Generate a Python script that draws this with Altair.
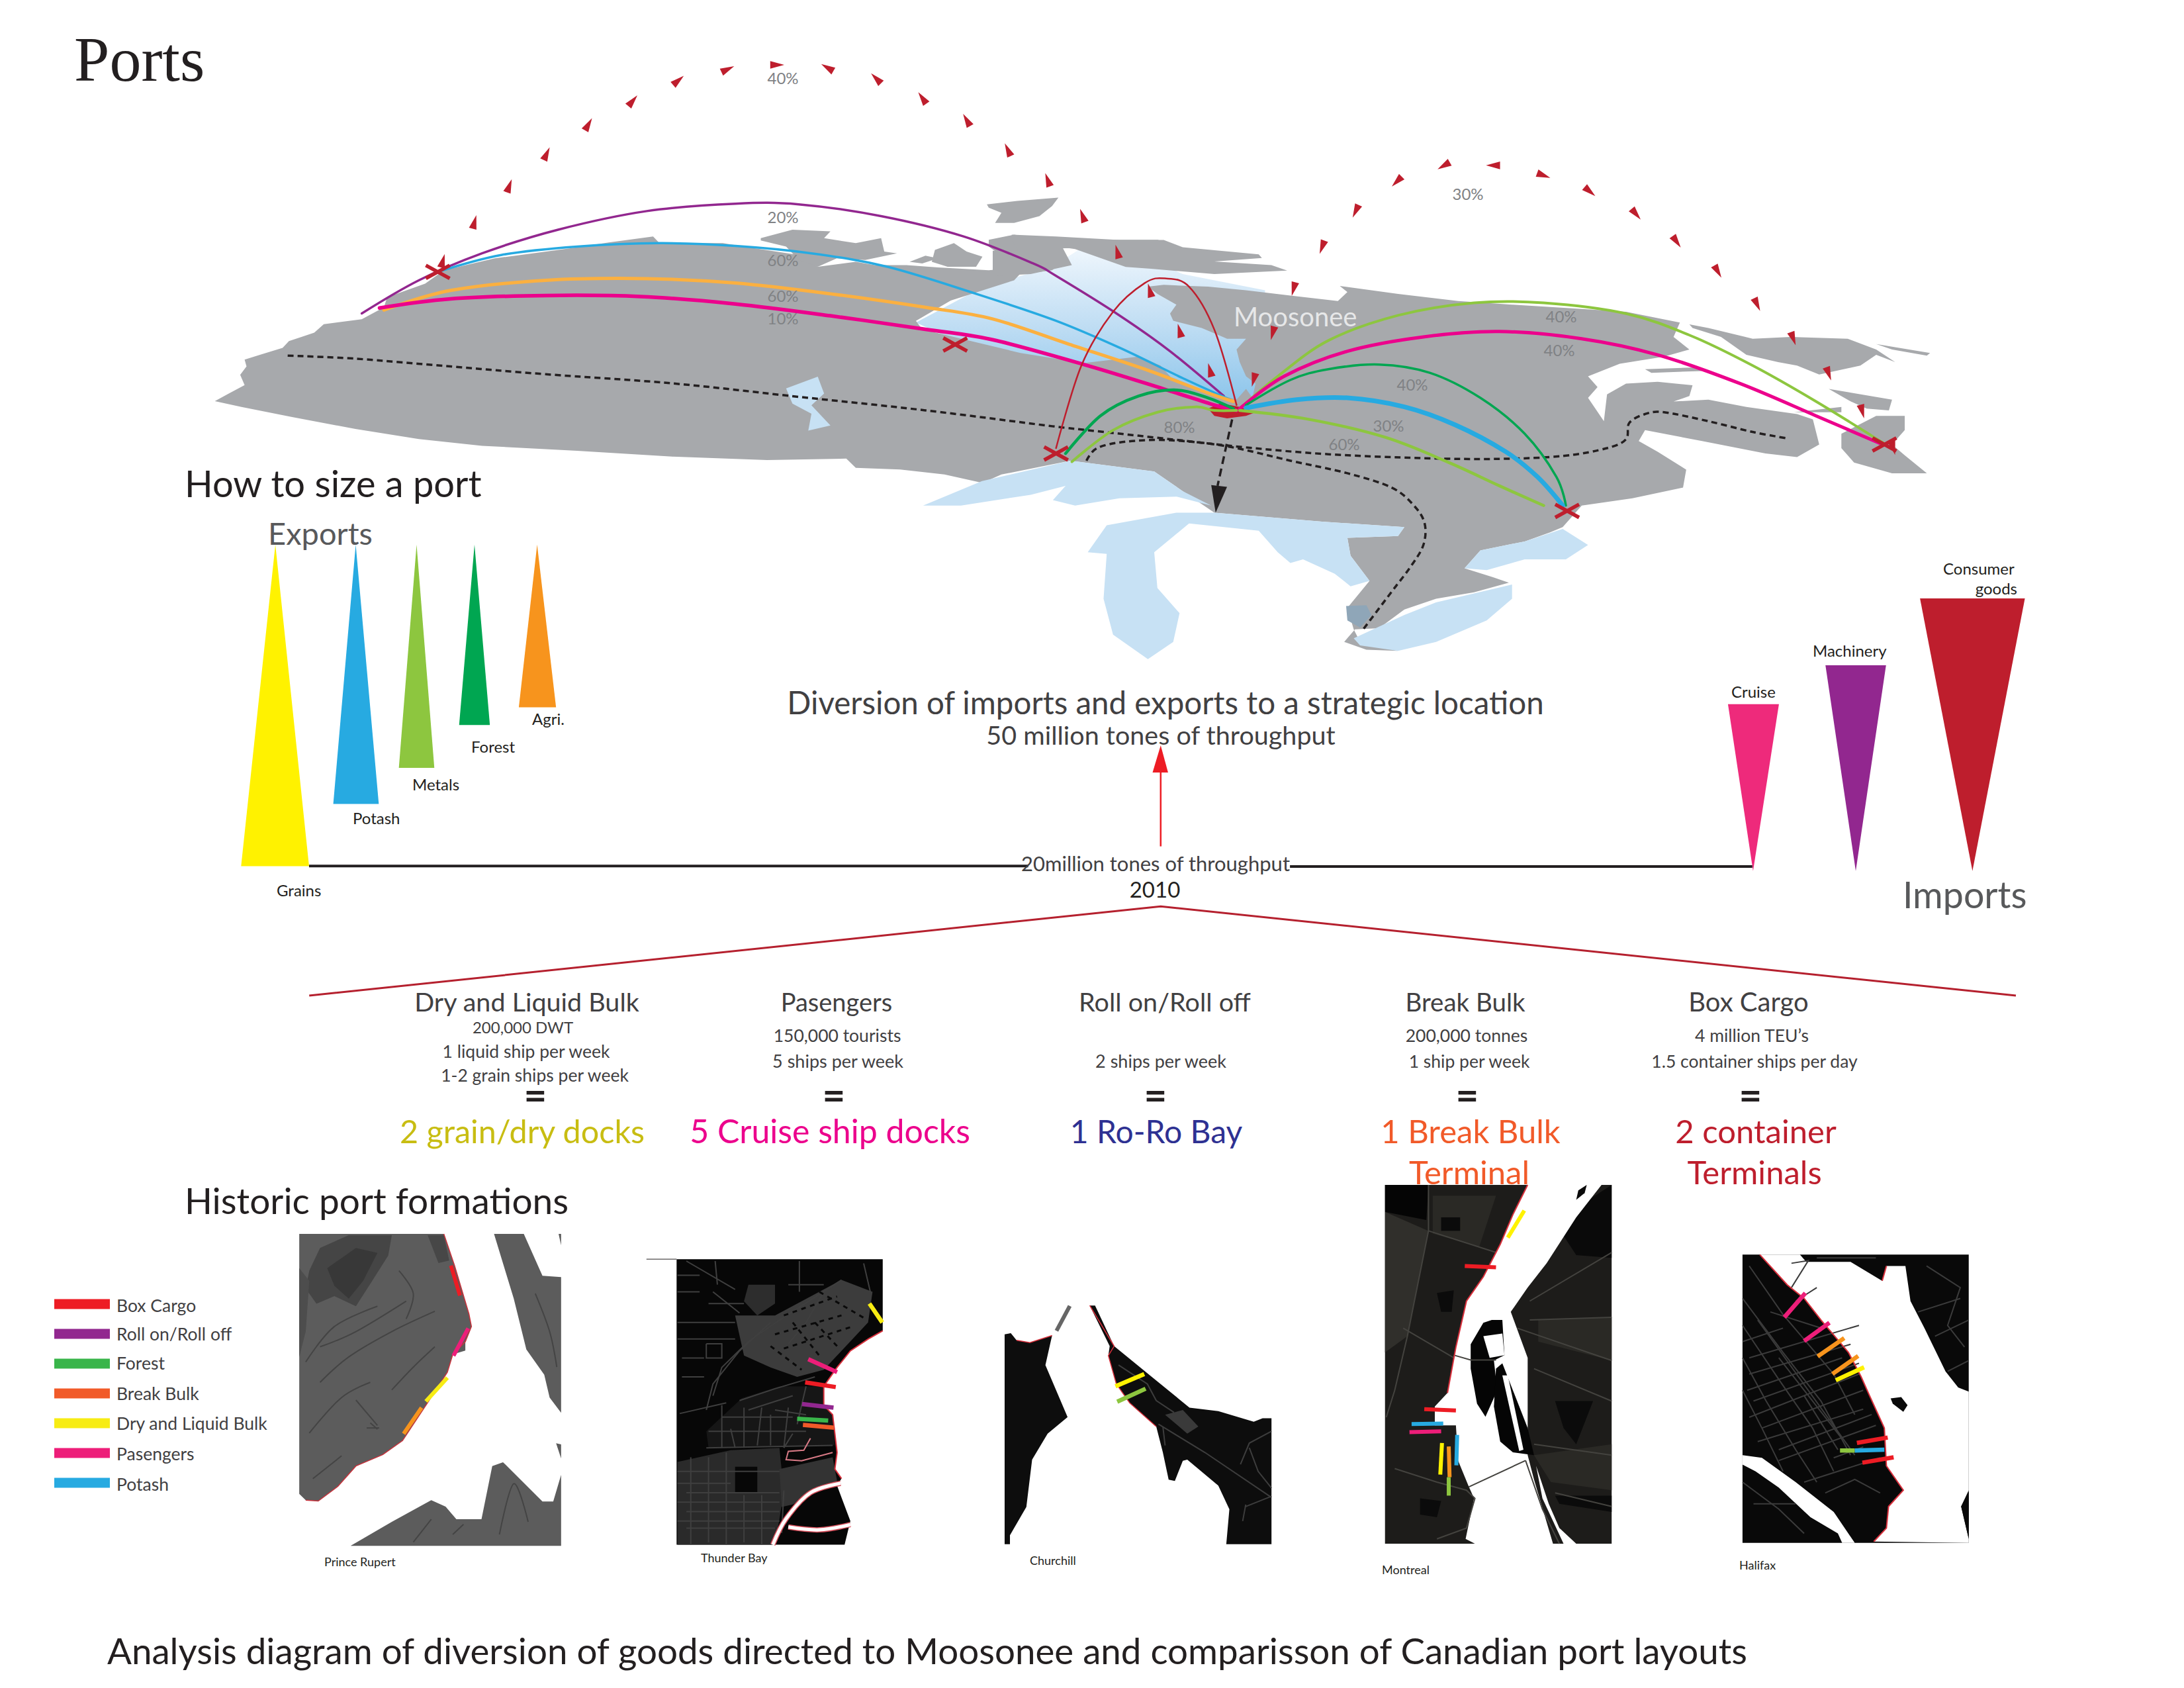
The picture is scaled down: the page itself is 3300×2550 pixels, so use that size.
import altair as alt
import pandas as pd

# Reading frames used when the values were measured: origin x, origin y, x factor, y factor
FRAMES = {1: (250, 0, 1.045, 1.96), 2: (1500, 200, 1.045, 1.845), 3: (250, 680, 1.12, 2.24),
          4: (1400, 800, 0.896, 2.24), 5: (450, 1480, 1.045, 3.0), 6: (1700, 1480, 1.081, 3.0),
          7: (50, 1820, 1.845, 2.61), 8: (950, 1880, 1.493, 2.8), 9: (2050, 1790, 1.568, 2.45)}
def Z(i, pts):
    ox, oy, fx, fy = FRAMES[i]
    return [(ox + x / fx, oy + y / fy) for x, y in pts]

LAND = "#a7a9ac"; LAKE = "#c7e1f4"; CRIMSON = "#be1e2d"; INK = "#231f20"; DGREY = "#58595b"; MGREY = "#808285"
YELLOW = "#fff200"; BLUE = "#27aae1"; LGREEN = "#8dc63f"; GREEN = "#00a651"; ORANGE = "#f7941d"
PINK = "#ee2a7b"; PURPLE = "#92278f"; MAGENTA = "#ec008c"; RED = "#ed1c24"; ARCORANGE = "#fbb040"; BB = "#f15a29"

# ---------- map ----------
bay = Z(1, [(1185,955),(1290,850),(1400,790),(1450,730),(1568,735)]) + Z(2, [(230,340),(300,395),(430,440),(430,610),(430,745),(385,775),(300,725),(230,650)]) + Z(1, [(1450,1090),(1250,1010)])
land_main = (
    Z(1, [(78,1188),(100,1165),(125,1140),(118,1110),(128,1085),(125,1065),(150,1050),(185,1030),(195,1010),(235,985),(250,960),(310,945),(345,910),(350,880),(410,840),(440,800),(520,765),(640,735),(700,718),(770,700),(780,720),(880,720),(930,735),(1000,755),(1030,790),(1090,775),(1120,785),(1170,785),(1220,792),(1300,800),(1360,790),(1340,830),(1290,860),(1240,890),(1185,950),(1195,975),(1250,1000),(1350,1045),(1450,1075)])
    + Z(2, [(230,625),(265,650),(285,690),(310,710),(365,735),(385,745),(400,715),(410,740),(415,700),(400,680),(390,640),(385,605),(400,575),(370,575),(330,545),(285,525),(280,505),(290,480),(260,450),(245,430),(270,425),(340,430),(400,440),(470,455),(545,470),(560,445),(548,428),(640,450),(735,470),(820,480),(910,490),(1000,500),(1085,530),(1075,570),(1100,605),(1060,625),(990,645),(940,680),(955,710),(940,740),(965,805),(970,730),(1000,700),(1050,695),(1105,705),(1100,735),(1075,750),(1130,745),(1190,765),(1270,785),(1295,800),(1305,870),(1270,905),(1220,895),(1120,860),(1030,830),(1020,860),(1050,890),(1095,940),(1090,990),(1010,1020),(930,1040),(900,1100),(880,1115),(840,1140),(770,1165),(745,1215),(790,1240),(815,1255),(760,1282),(700,1300),(650,1330),(610,1382),(572,1385),(555,1420),(590,1442),(640,1445),(580,1420),(570,1385),(560,1325),(595,1250),(565,1180),(560,1130),(640,1125),(650,1100),(520,1085),(350,1060),(300,1000),(255,945),(123,915)])
    + Z(1, [(1400,1375),(1320,1405),(1290,1430),(1230,1405),(1160,1390),(1090,1385),(1075,1358),(950,1362),(800,1352),(650,1335),(500,1320),(400,1300),(300,1270),(200,1235),(120,1205)])
)
islands = [
    Z(1, [(1297,605),(1345,595),(1410,585),(1400,610),(1380,640),(1340,660),(1310,660),(1320,630),(1300,615)]),
    Z(1, [(940,705),(990,680),(1050,685),(1040,705),(1090,720),(1130,705),(1135,745),(1155,750),(1105,770),(1060,765),(1030,790),(1000,770),(980,730),(940,712)]),
    Z(1, [(1215,740),(1245,720),(1265,745),(1290,760),(1280,790),(1235,790),(1210,775)]),
    Z(1, [(1175,775),(1200,757),(1220,765),(1195,780)]),
    Z(1, [(1300,710),(1340,695),(1400,710),(1568,710),(1568,760),(1500,750),(1450,735),(1420,735),(1380,740),(1350,770),(1420,770),(1400,800),(1360,810),(1345,790),(1300,730)]),
    Z(2, [(30,285),(100,290),(200,300),(270,300),(300,320),(420,340),(425,350),(350,360),(440,370),(465,385),(350,395),(250,380),(210,375),(130,325),(110,320),(125,370),(60,395),(0,400),(0,330),(40,330),(30,300)]),
    Z(2, [(1100,535),(1130,545),(1200,575),(1260,570),(1350,575),(1395,605),(1425,640),(1395,620),(1370,650),(1305,675),(1270,650),(1240,640),(1190,620),(1150,570),(1105,545)]),
    Z(2, [(1395,590),(1480,615),(1475,622),(1420,605)]),
    Z(2, [(1320,715),(1420,745),(1415,775),(1380,770),(1355,750)]),
    Z(2, [(1265,780),(1340,765),(1340,780)]),
    Z(2, [(1340,840),(1395,790),(1440,790),(1440,830),(1420,870),(1440,900),(1475,950),(1420,950),(1360,920),(1340,880)]),
    Z(2, [(1030,660),(1110,655),(1120,665),(1040,670)]),
]
lakes = [
    Z(2, [(-110,1040),(-17,972),(123,915),(255,945),(300,1000),(345,1040),(290,1015),(200,1020),(130,1040),(95,1025),(115,985),(60,1010),(-50,1040)]),
    Z(2, [(175,1300),(190,1400),(245,1468),(285,1420),(295,1340),(260,1270),(255,1170),(310,1090),(420,1110),(450,1170),(470,1200),(490,1190),(540,1230),(565,1265),(595,1250),(565,1180),(560,1130),(640,1125),(650,1100),(520,1085),(350,1060),(290,1060),(180,1095),(150,1170),(180,1175)]),
    Z(2, [(570,1410),(650,1345),(700,1310),(760,1285),(820,1260),(820,1300),(780,1360),(700,1420),(640,1445),(580,1430)]),
    Z(2, [(745,1215),(770,1165),(840,1140),(900,1105),(940,1150),(905,1190),(840,1190),(780,1220)]),
    Z(1, [(980,1150),(1030,1115),(1040,1165),(1020,1200),(1050,1260),(1015,1275),(1020,1225),(990,1195)]),
]
st_clair = Z(2, [(558,1320),(590,1318),(598,1345),(580,1380),(560,1360)])

arcs = [
 (Z(1,[(310,928),(400,830),(500,750),(620,680),(760,625),(900,603),(1000,605),(1130,640),(1260,700),(1370,780)])+Z(2,[(100,400),(200,510),(280,610),(365,735)]), PURPLE, 3.5),
 (Z(1,[(430,805),(530,755),(650,730),(780,720),(900,728),(1020,750),(1140,790),(1280,870)])+Z(2,[(100,525),(200,600),(300,685),(375,745)]), BLUE, 3.5),
 (Z(1,[(345,918),(450,860),(600,830),(760,825),(900,838),(1050,870),(1200,910)])+Z(2,[(0,520),(120,590),(240,660),(330,720),(380,750)]), ARCORANGE, 5),
 (Z(1,[(338,912),(450,885),(600,875),(750,878),(900,900),(1050,935),(1200,975)])+Z(2,[(0,578),(150,650),(270,715),(350,760),(385,775)]), MAGENTA, 5.5),
 (Z(2,[(100,880),(140,650),(190,500),(240,420),(272,407),(310,430),(350,550),(385,760)]), CRIMSON, 2.5),
 (Z(2,[(115,895),(170,790),(230,735),(290,718),(340,740),(380,770)]), GREEN, 4.5),
 (Z(2,[(125,918),(190,830),(260,780),(320,765),(350,775),(385,775)]), LGREEN, 4),
 (Z(2,[(390,770),(450,680),(530,580),(640,510),(760,475),(870,475),(1000,505),(1100,565),(1200,650),(1300,750),(1410,870)]), LGREEN, 4),
 (Z(2,[(390,770),(460,680),(560,610),(680,570),(800,555),(930,575),(1050,620),(1180,700),(1300,790),(1405,870)]), MAGENTA, 5),
 (Z(2,[(400,760),(470,690),(530,660),(610,647),(690,670),(770,740),(840,840),(890,960),(905,1040)]), GREEN, 3.5),
 (Z(2,[(400,768),(480,745),(560,740),(650,765),(730,815),(810,890),(860,960),(900,1040)]), BLUE, 7),
 (Z(2,[(390,775),(500,800),(620,850),(720,920),(800,985),(870,1040)]), LGREEN, 4.5),
]
dashed = [
 Z(1,[(193,1053),(300,1062),(450,1085),(600,1108),(800,1135),(1000,1175),(1200,1215),(1400,1262)])+Z(2,[(150,830),(280,855),(400,878),(530,897),(680,908),(800,910),(900,902),(970,880),(1000,855),(1005,810),(1030,785),(1060,780),(1130,805),(1200,835),(1252,852)]),
 Z(2,[(148,915),(165,880),(210,862),(280,858),(370,875),(470,915),(560,950),(630,990),(665,1040),(682,1090),(680,1150),(660,1210),(630,1280),(585,1385)]),
]
south_arrow = Z(2,[(378,800),(355,985)])
south_head = Z(2,[(345,983),(370,988),(352,1060)])

west_tri = Z(1,[(438,772),(488,657),(543,550),(602,455),(668,368),(738,298),(810,238),(888,205),(966,192),(1045,200),(1122,232),(1195,290),(1265,355),(1330,443),(1393,532),(1448,638),(1503,745)])+Z(2,[(248,440),(295,552),(343,662)])
west_ang = [15,15,20,25,30,40,50,65,90,300,315,325,330,335,340,340,345,345,345,345]
east_tri = Z(2,[(412,690),(442,560),(475,437),(520,320),(573,220),(638,137),(712,93),(790,92),(870,120),(943,165),(1016,228),(1080,305),(1145,388),(1207,480),(1264,575),(1320,673),(1373,778),(1422,880)])
east_ang = [195,195,195,200,205,225,240,270,110,130,140,145,150,155,160,160,165,165]
crosses = Z(1,[(430,805),(1247,1020)])+Z(2,[(100,895),(907,1055),(1408,870)])
hub = Z(2,[(340,770),(360,755),(390,765),(415,780),(400,790),(370,797),(350,790)])

# ---------- size triangles ----------
exports = [(Z(3,[(186,320),(243,1408),(128,1408)]),YELLOW),(Z(3,[(322,320),(361,1197),(284,1197)]),BLUE),
           (Z(3,[(425,320),(455,1075),(395,1075)]),LGREEN),(Z(3,[(523,320),(549,930),(497,930)]),GREEN),
           (Z(3,[(629,320),(661,870),(598,870)]),ORANGE)]
imports = [(Z(4,[(1085,591),(1154,591),(1119,1155)]),PINK),(Z(4,[(1217,459),(1299,459),(1258,1155)]),PURPLE),
           (Z(4,[(1345,233),(1487,233),(1416,1155)]),CRIMSON)]
base_lines = [Z(3,[(243,1407),(1460,1407)]), Z(4,[(492,1140),(1118,1140)])]
roof = Z(5,[(18,72)])+Z(4,[(317,1275)])+Z(6,[(1455,72)])
up_arrow = Z(4,[(317,1072),(317,820)]); up_head = Z(4,[(317,730),(327,822),(306,822)])

# ---------- legend ----------
leg_names = ["Box Cargo","Roll on/Roll off","Forest","Break Bulk","Dry and Liquid Bulk","Pasengers","Potash"]
leg_cols = [RED,PURPLE,"#39b54a",BB,"#f7ec13","#ed1e79",BLUE]
leg_y = [1970,2015,2060,2105,2150,2195,2240]
leg_base = [1982,2025,2069,2115,2160,2206,2252]

# ---------- port maps: (points, fill) painted in order ----------
PR_TONE="#5c5c5c"
pr_polys = [
 (Z(7,[(742,115),(1145,115),(1175,240),(1215,430),(1222,480),(1205,540),(1205,575),(1170,590),(1155,660),(1100,780),(1030,930),(975,985),(900,1030),(850,1110),(795,1168),(760,1165),(742,1140)]),PR_TONE),
 (Z(7,[(770,260),(800,170),(880,120),(1000,120),(990,200),(950,290),(900,400),(840,360),(790,390),(760,330)]),"#454545"),
 (Z(7,[(820,250),(900,170),(960,190),(920,300),(880,370),(840,320)]),"#383838"),
 (Z(7,[(1100,120),(1145,120),(1160,220),(1130,230)]),"#474747"),
 (Z(7,[(742,250),(770,300),(760,500),(742,600)]),"#4d4d4d"),
 (Z(7,[(1285,115),(1368,115),(1420,280),(1472,285),(1472,820),(1440,760),(1425,670),(1375,570),(1340,370)]),PR_TONE),
 (Z(7,[(1465,115),(1472,115),(1472,160)]),PR_TONE),
 (Z(7,[(1458,940),(1472,945),(1472,1000)]),PR_TONE),
 (Z(7,[(885,1345),(1000,1250),(1110,1165),(1150,1190),(1180,1240),(1250,1240),(1280,1030),(1310,1015),(1420,1170),(1450,1170),(1472,1065),(1472,1345)]),PR_TONE),
]
pr_coast = Z(7,[(1145,115),(1175,240),(1215,430),(1222,480),(1205,540),(1170,590),(1155,660),(1100,780),(1030,930),(975,985),(900,1030),(850,1110),(795,1168),(760,1165)])
pr_lines = [Z(7,p) for p in [[(800,700),(880,600),(1000,500),(1120,420)],[(770,900),(860,760),(940,700)],[(900,770),(960,870)],[(940,860),(960,885)],[(930,880),(965,880)],[(800,560),(900,500),(1040,380)],[(780,1080),(860,990)],[(1300,1300),(1340,1100),(1380,1250)],[(1170,1300),(1200,1260)],[(760,620),(840,480),(960,400)],[(1000,730),(1060,640),(1120,560)],[(1020,260),(1060,350),(1040,450)],[(1400,350),(1440,500),(1460,640)],[(1060,1330),(1110,1240)]]]
pr_segs = [(Z(7,[(1165,240),(1190,358)]),RED),(Z(7,[(1213,487),(1172,595)]),"#ed1e79"),(Z(7,[(1155,682),(1095,775)]),"#f7ec13"),(Z(7,[(1083,800),(1033,903)]),ORANGE)]

tb_polys = [
 (Z(8,[(108,62),(573,62),(573,365),(540,400),(500,450),(470,520),(440,600),(440,680),(460,720),(465,800),(470,880),(465,950),(480,990),(470,1020),(500,1170),(487,1270),(108,1270)]),"#070707"),
 (Z(8,[(240,300),(330,300),(480,150),(550,200),(540,330),(470,470),(440,530),(380,560),(320,520),(260,470)]),"#3c3c3c"),
 (Z(8,[(110,920),(230,870),(340,860),(350,1050),(330,1270),(110,1270)]),"#2a2a2a"),
 (Z(8,[(240,940),(290,940),(290,1050),(240,1050)]),"#070707"),
 (Z(8,[(270,170),(330,170),(330,250),(290,300),(260,240)]),"#2d2d2d"),
 (Z(8,[(340,950),(460,900),(470,1000),(370,1100),(345,1110)]),"#333333"),
 (Z(8,[(255,650),(340,600),(440,600),(440,680),(460,720),(465,850),(180,860),(175,790)]),"#161616"),
]
tb_coast = Z(8,[(573,365),(540,400),(500,450),(470,520),(440,600),(440,680),(460,720),(465,800),(470,880),(465,950),(480,990)])
tb_river = [Z(8,[(478,1010),(410,1050),(355,1160),(325,1270)]), Z(8,[(360,1195),(430,1207),(500,1185)])]
tb_pink = Z(8,[(410,820),(395,870),(360,875),(355,910),(390,915),(460,880)])
tb_lines = [Z(8,p) for p in [[(190,640),(210,520),(270,410),(340,320),(480,150)],[(175,700),(190,590),(250,450),(320,330)],[(115,715),(220,670)],[(175,860),(460,850)],[(180,790),(400,790)],[(250,660),(330,610),(420,560)],[(270,700),(370,640)],[(300,690),(290,850)],[(230,780),(240,860)],[(360,690),(350,860)],[(130,70),(240,190)],[(195,70),(200,170)],[(385,70),(385,200)],[(110,330),(240,330)],[(110,400),(240,400)],[(175,420),(210,420),(210,480),(175,480),(175,420)],[(130,1050),(340,1050)],[(130,1130),(340,1130)],[(130,1200),(330,1200)],[(180,900),(180,1260)],[(260,1060),(260,1260)],[(350,1040),(345,1220)],[(530,80),(545,200)],[(440,200),(400,330),(360,420)],[(370,800),(350,860)],[(400,600),(380,760)],[(110,960),(340,960)],[(110,1010),(230,1010)],[(110,1090),(340,1090)],[(110,1170),(340,1170)],[(140,900),(140,1270)],[(220,880),(220,1270)],[(300,1060),(300,1270)],[(330,700),(400,720)],[(210,730),(370,730)],[(210,680),(210,860)],[(260,690),(260,860)],[(320,720),(320,850)],[(180,250),(260,250)],[(190,200),(250,290)],[(110,130),(160,130)],[(110,200),(160,200)],[(120,480),(170,480)],[(120,560),(170,560)],[(360,170),(440,170)]]]
tb_dark = [Z(8,p) for p in [[(330,380),(480,300)],[(350,440),(500,350)],[(420,330),(470,430)],[(370,330),(430,470)],[(320,430),(390,530)],[(350,300),(470,220)],[(430,200),(530,310)]]]
tb_rule = Z(8,[(40,62),(108,62)])
tb_segs = [(Z(8,[(543,250),(572,330)]),"#f7ec13"),(Z(8,[(405,485),(470,540)]),"#ed1e79"),(Z(8,[(398,583),(467,603)]),RED),(Z(8,[(391,675),(462,690)]),PURPLE),(Z(8,[(380,737),(450,745)]),"#39b54a"),(Z(8,[(393,763),(463,775)]),BB)]

ch_polys = [
 (Z(8,[(848,380),(862,375),(875,405),(905,415),(955,385),(940,510),(990,730),(945,800),(910,910),(897,1110),(860,1230),(860,1268),(848,1268)]),"#0d0d0d"),
 (Z(8,[(1040,258),(1052,258),(1095,430),(1180,560),(1265,690),(1330,705),(1410,750),(1430,735),(1450,735),(1450,1268),(1348,1268),(1355,1120),(1330,1020),(1260,910),(1250,915),(1232,1000),(1218,995),(1205,880),(1190,770),(1130,670),(1100,590),(1082,470),(1085,430)]),"#0d0d0d"),
 (Z(8,[(1210,720),(1250,700),(1285,770),(1260,800)]),"#3a3a3a"),
]
ch_coast = [Z(8,[(1040,258),(1095,430),(1082,470),(1100,590),(1130,670),(1190,770)]), Z(8,[(955,385),(905,415),(875,405)])]
ch_grey = Z(8,[(995,260),(965,365)])
ch_lines = [Z(8,p) for p in [[(1195,760),(1300,880),(1450,1070)],[(1380,930),(1400,840),(1450,790)],[(1400,860),(1420,960),(1450,1030)],[(1390,1110),(1450,1065)],[(1385,1170),(1392,1100)],[(1105,510),(1170,590),(1190,660),(1230,710)],[(1205,770),(1210,850)]]]
ch_segs = [(Z(8,[(1098,600),(1163,548)]),YELLOW),(Z(8,[(1102,665),(1166,610)]),LGREEN)]

mo_frame = Z(9,[(67,0),(604,0),(604,1328),(67,1328)])
mo_polys = [
 (mo_frame,"#1d1c1a"),
 (Z(9,[(67,0),(170,0),(165,130),(67,100)]),"#050505"),
 (Z(9,[(470,140),(545,60),(604,0),(604,270),(520,260)]),"#0a0a0a"),
 (Z(9,[(67,100),(170,170),(120,560),(67,620)]),"#302f2b"),
 (Z(9,[(180,40),(330,40),(290,230),(180,180)]),"#2a2925"),
 (Z(9,[(430,500),(604,490),(604,650),(430,580)]),"#2a2925"),
 (Z(9,[(420,1000),(604,960),(604,1130),(460,1100)]),"#2a2925"),
 (Z(9,[(470,800),(560,800),(520,960),(490,900)]),"#0b0b0b"),
 (Z(9,[(150,1160),(200,1170),(190,1230),(150,1220)]),"#0b0b0b"),
 (Z(9,[(190,400),(230,390),(225,470),(200,470)]),"#0b0b0b"),
 (Z(9,[(200,120),(245,120),(245,170),(200,170)]),"#0b0b0b"),
 (Z(9,[(470,1150),(604,1150),(604,1210),(480,1180)]),"#0b0b0b"),
 (Z(9,[(405,0),(370,110),(340,220),(300,340),(260,430),(235,600),(215,770),(185,820),(185,890),(235,890),(240,1020),(265,1115),(278,1160),(258,1310),(280,1328),(465,1328),(420,1090),(405,1000),(405,640),(365,470),(405,380),(450,290),(520,120),(580,0)]),"#ffffff"),
 (Z(9,[(545,0),(525,20),(520,55),(540,30)]),"#0a0a0a"),
 (Z(9,[(420,1000),(440,1160),(490,1328),(520,1328),(480,1270),(455,1180),(425,1040)]),"#ffffff"),
 (Z(9,[(300,510),(320,500),(345,500),(350,630),(325,650),(333,760),(305,858),(285,810),(270,680),(270,590)]),"#050505"),
 (Z(9,[(300,560),(345,550),(350,630),(315,640)]),"#ffffff"),
 (Z(9,[(330,680),(345,660),(405,900),(420,1000),(370,990),(340,950),(325,820)]),"#050505"),
 (Z(9,[(345,705),(358,705),(395,980),(385,985)]),"#ffffff"),
]
mo_coast = Z(9,[(405,0),(370,110),(340,220),(300,340),(260,430),(235,600),(215,770)])
mo_lines = [Z(9,p) for p in [[(170,0),(170,170),(120,560),(90,760),(70,860)],[(230,630),(270,648),(330,648)],[(265,1118),(400,1020)],[(170,170),(330,250)],[(110,530),(230,640)],[(410,500),(604,490)],[(380,530),(604,650)],[(420,680),(604,800)],[(420,960),(604,1000)],[(470,1140),(604,1190)],[(90,1050),(190,1100),(260,1130),(280,1160),(260,1270),(190,1310)],[(604,250),(410,430)],[(400,1020),(440,1200),(480,1328)]]]
mo_segs = [(Z(9,[(397,95),(358,195)]),YELLOW),(Z(9,[(256,300),(330,305)]),RED),(Z(9,[(160,830),(235,835)]),RED),(Z(9,[(130,885),(205,883)]),BLUE),(Z(9,[(125,915),(200,912)]),"#ed1e79"),(Z(9,[(202,955),(198,1072)]),YELLOW),(Z(9,[(218,968),(220,1082)]),ORANGE),(Z(9,[(238,925),(236,1038)]),BLUE),(Z(9,[(218,1082),(218,1150)]),LGREEN)]

ha_frame = Z(9,[(914,258),(1450,258),(1450,1325),(914,1325)])
ha_polys = [
 (ha_frame,"#090909"),
 (Z(9,[(955,258),(1050,258),(1065,285),(1170,285),(1245,355),(1255,300),(1300,300),(1312,430),(1345,530),(1395,690),(1425,750),(1450,765),(1450,1130),(1432,1190),(1450,1310),(1450,1325),(1225,1320),(1255,1270),(1260,1190),(1295,1130),(1255,1040),(1250,900),(1215,780),(1195,710),(1165,620),(1100,500),(1060,420),(1020,370)]),"#ffffff"),
 (Z(9,[(914,1000),(960,1010),(1040,1100),(1130,1210),(1180,1325),(1150,1325),(1140,1290),(1075,1230),(1000,1120),(945,1060),(914,1035)]),"#ffffff"),
 (Z(9,[(1265,790),(1290,785),(1305,815),(1295,840),(1270,810)]),"#090909"),
 (Z(9,[(1450,1135),(1450,1310),(1432,1190)]),"#090909"),
]
ha_coast = [Z(9,[(955,258),(1020,370),(1060,420),(1100,500),(1165,620),(1195,710),(1215,780),(1250,900),(1255,1040),(1295,1130),(1260,1190),(1255,1270),(1225,1320)]), Z(9,[(1245,355),(1255,300)])]
ha_lines = [Z(9,p) for p in [[(930,300),(1010,480),(1130,700),(1180,850)],[(914,420),(1010,620),(1100,800),(1170,1000)],[(914,520),(1000,720),(1080,900),(1130,1060)],[(914,640),(970,800),(1040,980),(1090,1100)],[(914,760),(960,900),(1010,1060)],[(930,640),(1190,520)],[(925,760),(1150,640)],[(930,860),(1190,700)],[(950,950),(1200,830)],[(1000,1020),(1230,890)],[(1060,1100),(1240,1010)],[(1040,430),(1090,380)],[(1030,290),(1070,280),(1030,380)],[(1110,1140),(1180,1090),(1240,1140)],[(914,1100),(1000,1200),(1060,1290)],[(940,1180),(1040,1180)],[(1090,270),(1230,270)],[(1350,300),(1430,380),(1400,520),(1440,600)],[(1330,470),(1430,420)],[(1370,560),(1450,500)],[(1400,690),(1450,650)],[(930,700),(1170,590)],[(940,800),(1190,660)],[(960,900),(1200,760)],[(1000,980),(1220,850)],[(914,580),(1010,530)],[(980,470),(1100,530)],[(950,500),(1180,1000)],[(1000,640),(1150,940)],[(1060,780),(1140,980)],[(1130,1010),(1200,970)]]]
ha_segs = [(Z(9,[(1063,400),(1013,490)]),"#ed1e79"),(Z(9,[(1120,510),(1060,578)]),"#ed1e79"),(Z(9,[(1155,567),(1092,635)]),ORANGE),(Z(9,[(1188,633),(1127,700)]),ORANGE),(Z(9,[(1202,675),(1135,723)]),YELLOW),(Z(9,[(1185,955),(1258,935)]),RED),(Z(9,[(1145,983),(1180,983)]),LGREEN),(Z(9,[(1180,983),(1250,980)]),BLUE),(Z(9,[(1198,1028),(1272,1008)]),RED)]

# ---------- text: x, baseline y, text, size, colour ----------
SANS = "Lato"; TXT = "#414042"
pct = [(1183,127,"40%"),(1183,337,"20%"),(1183,402,"60%"),(1183,456,"60%"),(1183,490,"10%"),(2218,302,"30%"),(2359,487,"40%"),(2356,538,"40%"),(2134,590,"40%"),(2098,652,"30%"),(2031,680,"60%"),(1782,654,"80%")]
center_text = [(x,y,t,24,MGREY) for x,y,t in pct] + [
 (1761,1079,"Diversion of imports and exports to a strategic location",47.5,TXT),
 (1754,1125,"50 million tones of throughput",39.5,TXT),
 (1746,1316,"20million tones of throughput",31,TXT),
 (1745,1356,"2010",33,INK),
 (796,1528,"Dry and Liquid Bulk",39.5,TXT),(1264,1528,"Pasengers",38,TXT),(1760,1528,"Roll on/Roll off",39.5,TXT),(2214,1528,"Break Bulk",38.5,TXT),(2642,1528,"Box Cargo",40,TXT),
 (790,1561,"200,000 DWT",24,TXT),(795,1598,"1 liquid ship per week",26.5,TXT),(808,1634,"1-2 grain ships per week",26.5,TXT),
 (1265,1574,"150,000 tourists",26.5,TXT),(1266,1613,"5 ships per week",27,TXT),(1754,1613,"2 ships per week",27,TXT),
 (2216,1574,"200,000 tonnes",26.5,TXT),(2220,1613,"1 ship per week",26.5,TXT),(2647,1574,"4 million TEU\u2019s",26.5,TXT),(2651,1613,"1.5 container ships per day",26.5,TXT),
 (789,1727,"2 grain/dry docks",48.5,"#c8bd12"),(1254,1727,"5 Cruise ship docks",50,MAGENTA),(1747,1727,"1 Ro-Ro Bay",48,"#2e3192"),
 (2222,1727,"1 Break Bulk",49,BB),(2220,1789,"Terminal",49,BB),(2653,1727,"2 container",49,CRIMSON),(2651,1789,"Terminals",49,CRIMSON),
]
equals = [(809,1676,"=",60,INK),(1260,1676,"=",60,INK),(1746,1676,"=",60,INK),(2217,1676,"=",60,INK),(2645,1676,"=",60,INK)]
left_text = [
 (279,751,"How to size a port",56,INK),(405,823,"Exports",47,DGREY),(418,1354,"Grains",24,INK),(533,1245,"Potash",24,INK),(623,1194,"Metals",24,INK),(712,1137,"Forest",24,INK),(804,1095,"Agri.",24,INK),
 (1864,493,"Moosonee",40,"#e6e7e8"),(2875,1372,"Imports",55.5,DGREY),(2616,1054,"Cruise",24,INK),(2739,992,"Machinery",24,INK),(2936,868,"Consumer",24,INK),
 (279,1834,"Historic port formations",55,INK),(490,2366,"Prince Rupert",18,INK),(1059,2360,"Thunder Bay",18,INK),(1556,2364,"Churchill",18,INK),(2088,2378,"Montreal",18,INK),(2628,2371,"Halifax",18,INK),
 (162,2514,"Analysis diagram of diversion of goods directed to Moosonee and  comparisson of Canadian port layouts",54.7,INK),
] + [(176,b,n,26.5,TXT) for b,n in zip(leg_base,leg_names)]
right_text = [(3048,898,"goods",24,INK)]

# ---------- builders ----------
X = alt.X("x:Q", scale=alt.Scale(domain=[8,3292], nice=False, zero=False), axis=None)
Y = alt.Y("y:Q", scale=alt.Scale(domain=[2542,8], nice=False, zero=False), axis=None)
layers = []
def poly(pts, fill, **kw):
    ring = [[float(x), float(y)] for x, y in pts]; ring.append(ring[0])
    feat = {"type":"Feature","properties":{},"geometry":{"type":"Polygon","coordinates":[ring]}}
    layers.append(alt.Chart(alt.Data(values=[feat])).mark_geoshape(fill=fill, stroke=kw.get("stroke","transparent"), strokeWidth=kw.get("sw",0)).project(type="identity", scale=1, translate=[-8,-8]))
def line(pts, color, w, dash=None, interp="linear", cap="butt"):
    df = pd.DataFrame([{"x":x,"y":y,"i":i} for i,(x,y) in enumerate(pts)])
    kw = {"strokeDash":dash} if dash else {}
    layers.append(alt.Chart(df).mark_line(color=color, strokeWidth=w, interpolate=interp, strokeCap=cap, **kw).encode(x=X,y=Y,order="i:Q"))
def texts(rows, align, font=SANS, weight="normal"):
    df = pd.DataFrame(rows, columns=["x","y","t","s","c"])
    layers.append(alt.Chart(df).mark_text(align=align, baseline="alphabetic", font=font, fontWeight=weight).encode(
        x=X, y=Y, text="t:N", size=alt.Size("s:Q", scale=None), color=alt.Color("c:N", scale=None)))
def markers(pts, angles, col):
    df = pd.DataFrame({"x":[p[0] for p in pts],"y":[p[1] for p in pts],"a":angles})
    layers.append(alt.Chart(df).mark_point(shape="M0,-1L0.55,1L-0.55,1Z", size=450, filled=True, color=col, opacity=1).encode(x=X,y=Y,angle=alt.Angle("a:Q",scale=None)))

# paint order
poly(bay, alt.Gradient(gradient="linear", stops=[alt.GradientStop(color="#f0f7fd",offset=0),alt.GradientStop(color="#c3dff4",offset=0.45),alt.GradientStop(color="#86c2ea",offset=1)], x1=0,x2=0,y1=0,y2=1))
poly(land_main, LAND)
for p in islands: poly(p, LAND)
for p in lakes: poly(p, LAKE)
poly(st_clair, "#8fa6b8")
for p in dashed: line(p, INK, 3.5, dash=[9,6], interp="cardinal")
line(south_arrow, INK, 3.5, dash=[12,7]); poly(south_head, INK)
poly(hub, CRIMSON)
for pts,c,w in arcs: line(pts,c,w,interp="cardinal",cap="round")
markers(west_tri, west_ang, CRIMSON); markers(east_tri, east_ang, CRIMSON)
cdf = pd.DataFrame({"x":[p[0] for p in crosses],"y":[p[1] for p in crosses]})
layers.append(alt.Chart(cdf).mark_point(shape="M-1,-0.55L1,0.55M-1,0.55L1,-0.55", size=1300, filled=False, stroke=CRIMSON, strokeWidth=5.5, opacity=1).encode(x=X,y=Y))

for p,c in exports+imports: poly(p,c)
for p in base_lines: line(p, INK, 4)
line(roof, "#b5202e", 3)
line(up_arrow, RED, 2.5); poly(up_head, RED)

for y,c in zip(leg_y,leg_cols): line([(82,y),(166,y)], c, 15)

for pts,c in pr_polys: poly(pts,c)
for p in pr_lines: line(p,"#444444",2,interp="cardinal")
line(pr_coast,"#c8323c",1.5)
for pts,c in pr_segs: line(pts,c,6)

for pts,c in tb_polys: poly(pts,c)
for p in tb_lines: line(p,"#3f3f3f",2)
for p in tb_dark: line(p,"#0a0a0a",3,dash=[7,7])
line(tb_coast,"#d8303c",2)
for p in tb_river:
    line(p,"#d8505c",8,interp="cardinal"); line(p,"#ffffff",5,interp="cardinal")
line(tb_pink,"#d87a86",2)
line(tb_rule,INK,1)
for pts,c in tb_segs: line(pts,c,6.5)

for pts,c in ch_polys: poly(pts,c)
for p in ch_lines: line(p,"#3d3d3d",2)
for p in ch_coast: line(p,"#d8303c",1.5)
line(ch_grey,"#666666",6)
for pts,c in ch_segs: line(pts,c,6.5)

for pts,c in mo_polys: poly(pts,c)
for p in mo_lines: line(p,"#44433f",2)
line(mo_coast,"#d8303c",2)
for pts,c in mo_segs: line(pts,c,6)

for pts,c in ha_polys: poly(pts,c)
for p in ha_lines: line(p,"#3b3b3b",2)
for p in ha_coast: line(p,"#d8303c",2)
for pts,c in ha_segs: line(pts,c,6.5)

texts(center_text,"center"); texts(equals,"center",weight="bold"); texts(left_text,"left"); texts(right_text,"right")
texts([(112,122,"Ports",96,INK)],"left",font="Liberation Serif")

chart = alt.layer(*layers).properties(width=3284, height=2534, padding=0, autosize=alt.AutoSizeParams(type="none"), background="white").configure_view(strokeWidth=0)
chart.save("out.html", embed_options={"renderer":"svg","actions":False})
